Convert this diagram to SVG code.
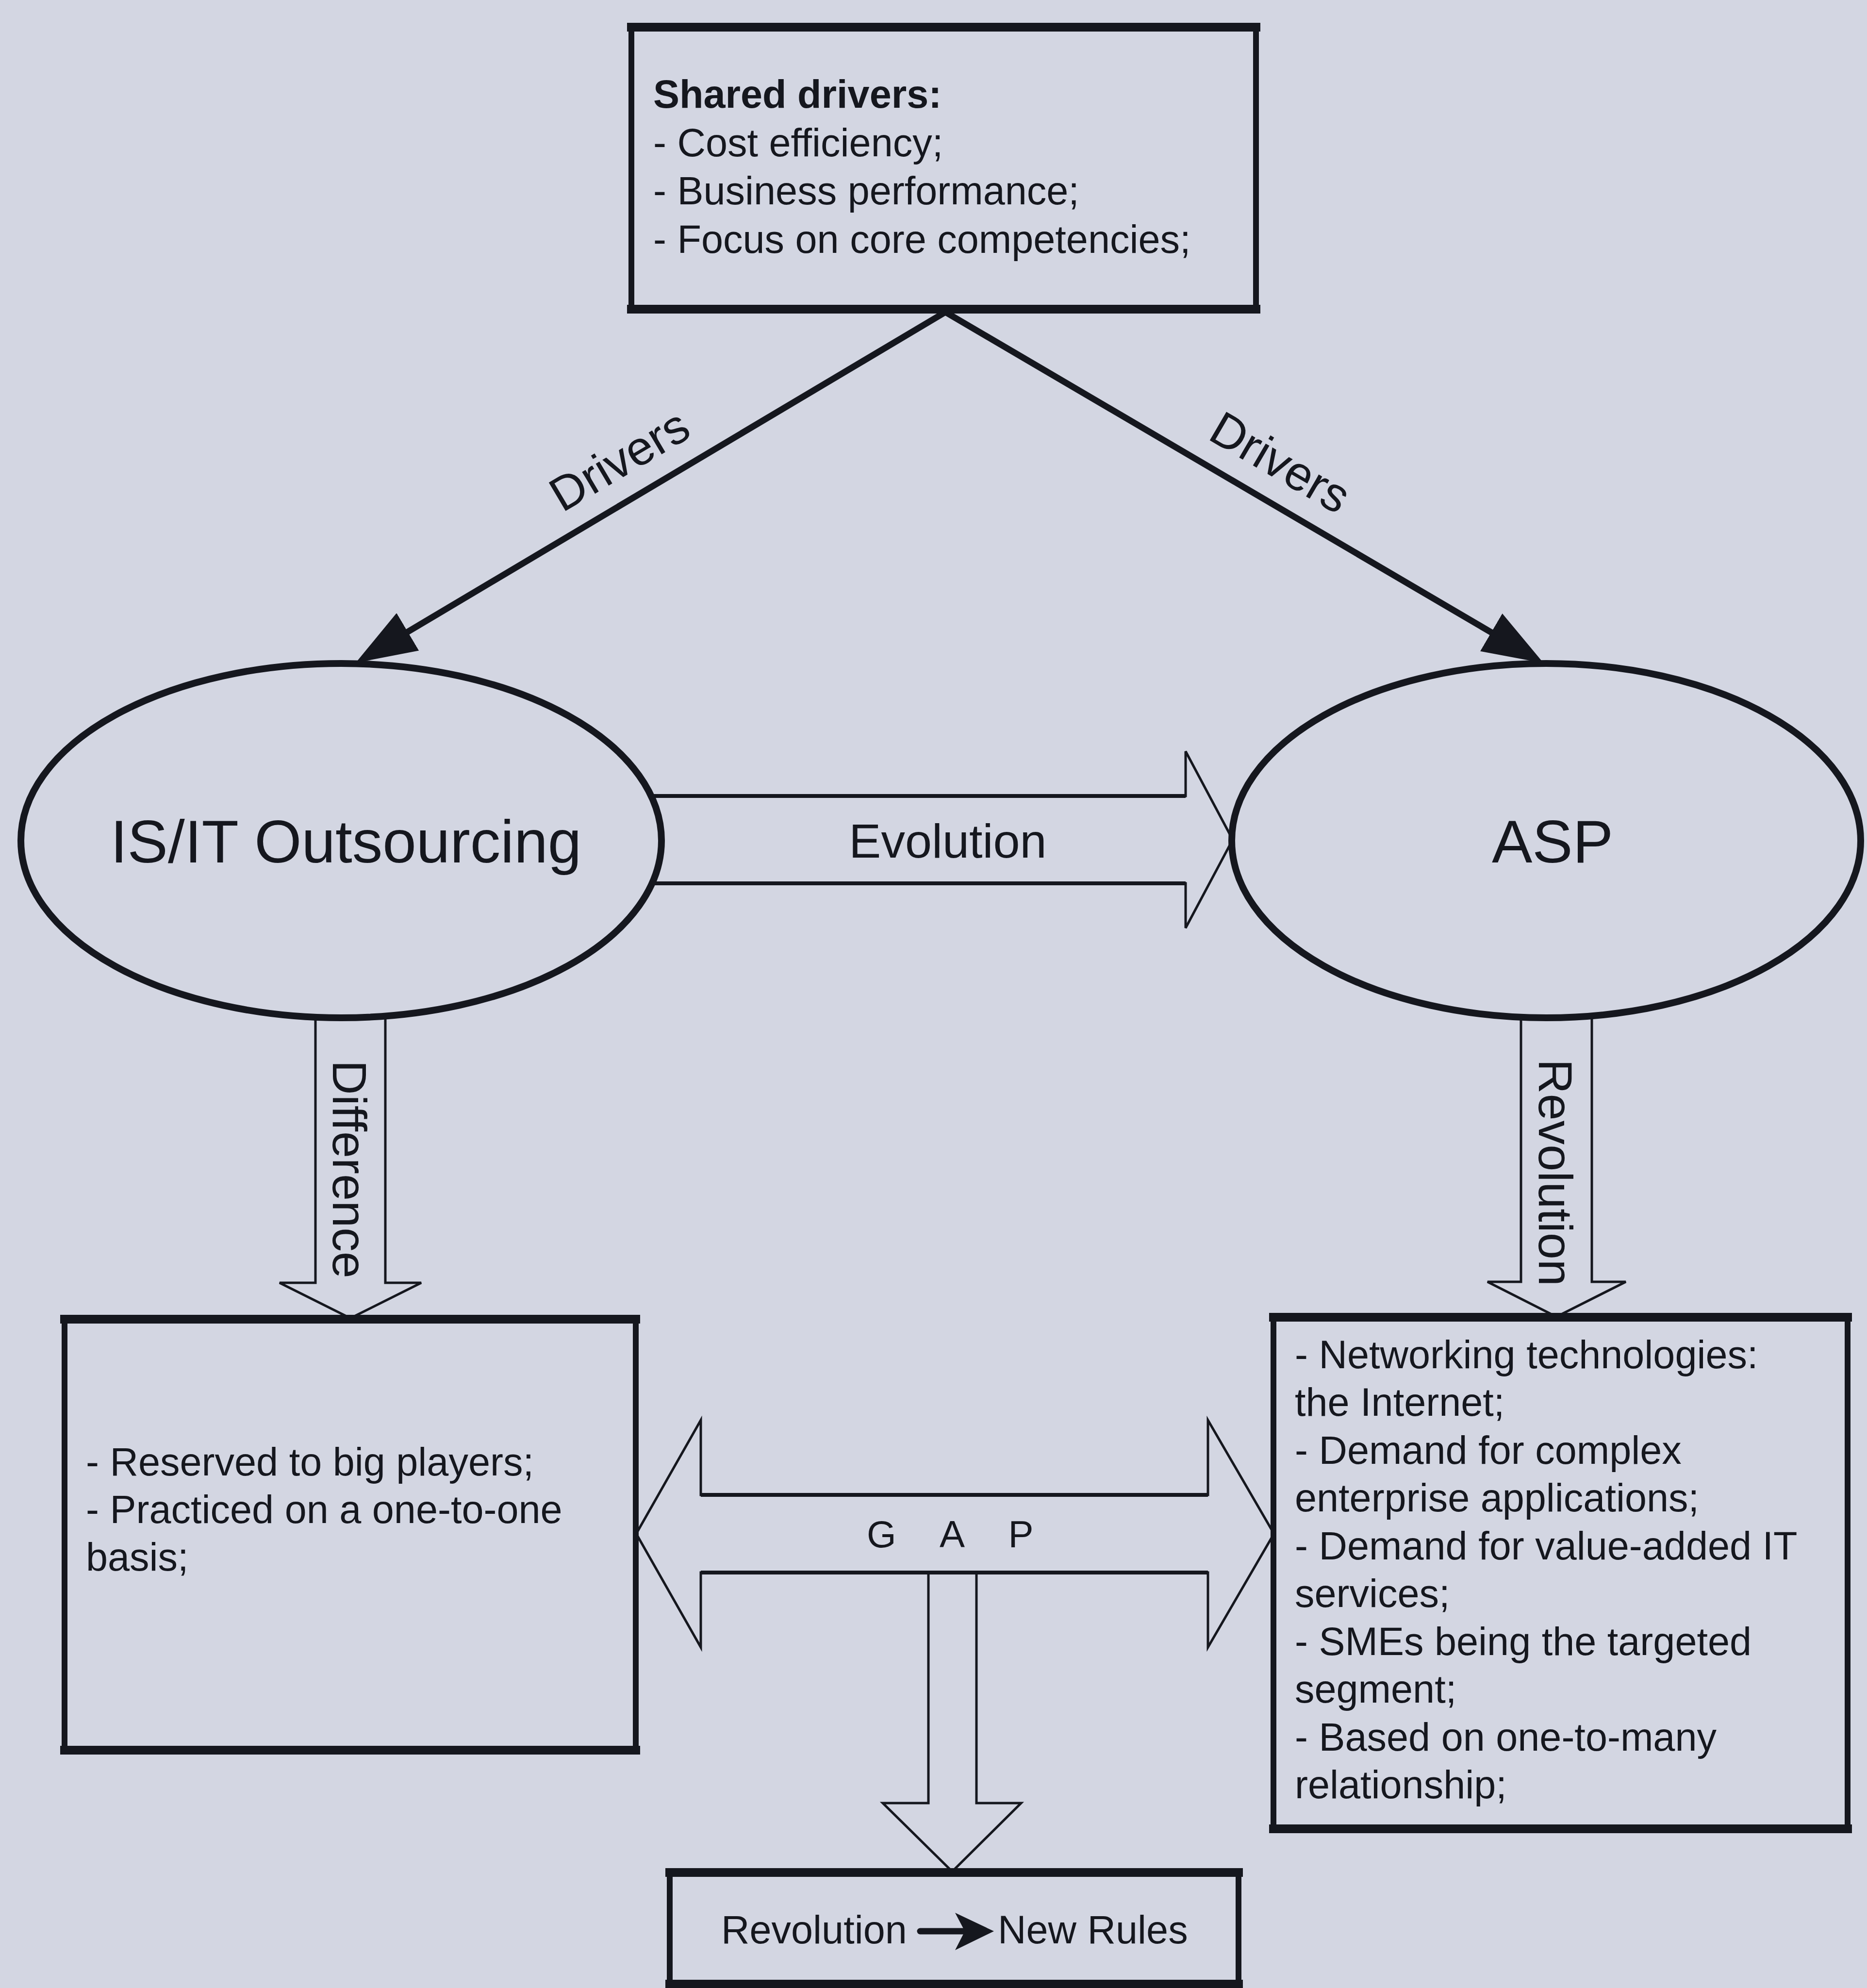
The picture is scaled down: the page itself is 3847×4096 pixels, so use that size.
<svg xmlns="http://www.w3.org/2000/svg" width="3847" height="4096" viewBox="0 0 3847 4096">
  <style>
    text { font-family: "Liberation Sans", Arial, Helvetica, sans-serif; fill: #15171e; }
    .body { font-size: 81px; }
    .bold { font-weight: bold; }
    .label { font-size: 99px; }
    .title { font-size: 125px; }
    .gap { font-size: 78px; letter-spacing: 36px; }
    .side { fill: none; stroke: #15171e; stroke-width: 12; }
    .edge { stroke: #15171e; stroke-width: 18; stroke-linecap: square; }
    .oval { fill: none; stroke: #15171e; stroke-width: 14; }
    .hollow { fill: none; stroke: #15171e; stroke-width: 5; stroke-linejoin: miter; }
    .shaft { stroke: #15171e; stroke-width: 8; }
    .conn { fill: none; stroke: #15171e; stroke-width: 13; }
    .ink { fill: #15171e; }
  </style>
  <defs>
    <marker id="solidHead" viewBox="0 0 125 90" refX="20" refY="45" markerWidth="125" markerHeight="90" markerUnits="userSpaceOnUse" orient="auto">
      <path d="M0,0 L125,45 L0,90 Z" class="ink"/>
    </marker>
  </defs>

  <rect width="3847" height="4096" fill="#d3d6e2"/>

  <!-- connectors: driver arrows and block arrows -->
  <g id="connectors">
    <line class="conn" x1="1948" y1="643" x2="823" y2="1312" marker-end="url(#solidHead)"/>
    <line class="conn" x1="1948" y1="643" x2="3090" y2="1313" marker-end="url(#solidHead)"/>
    <g transform="translate(1320,1022) rotate(-30.6)">
      <text class="label" x="0" y="-52" text-anchor="middle">Drivers</text>
    </g>
    <g transform="translate(2595,1027) rotate(30.2)">
      <text class="label" x="0" y="-52" text-anchor="middle">Drivers</text>
    </g>

    <!-- Evolution -->
    <g id="arrow-evolution">
      <path class="hollow" d="M1343,1640 H2443 V1548 L2540,1730 L2443,1912 V1820 H1343"/>
      <line class="shaft" x1="1343" y1="1640" x2="2443" y2="1640"/>
      <line class="shaft" x1="1343" y1="1820" x2="2443" y2="1820"/>
      <text class="label" x="1953" y="1767" text-anchor="middle">Evolution</text>
    </g>

    <!-- Difference -->
    <g id="arrow-difference">
      <path class="hollow" d="M650,2096 V2643 H576 L722,2716 L868,2643 H794 V2096"/>
      <g transform="translate(722,2409) rotate(90)">
        <text class="label" x="0" y="36" text-anchor="middle">Difference</text>
      </g>
    </g>

    <!-- Revolution -->
    <g id="arrow-revolution">
      <path class="hollow" d="M3134,2096 V2641 H3065 L3207,2713 L3350,2641 H3280 V2096"/>
      <g transform="translate(3207,2416) rotate(90)">
        <text class="label" x="0" y="36" text-anchor="middle">Revolution</text>
      </g>
    </g>

    <!-- GAP -->
    <g id="arrow-gap">
      <path class="hollow" d="M1444,3080 V2926 L1311,3160 L1444,3394 V3240 H2489 V3394 L2625,3160 L2489,2926 V3080 Z"/>
      <line class="shaft" x1="1444" y1="3080" x2="2489" y2="3080"/>
      <line class="shaft" x1="1444" y1="3240" x2="2489" y2="3240"/>
      <text class="gap" x="1786" y="3188">G A P</text>
      <path class="hollow" d="M1913,3240 V3715 H1819 L1962,3856 L2104,3715 H2012 V3240"/>
    </g>
  </g>

  <!-- shared drivers -->
  <g id="shared-drivers">
    <rect class="side" x="1301" y="56" width="1287" height="581"/>
    <line class="edge" x1="1301" y1="56" x2="2588" y2="56"/>
    <line class="edge" x1="1301" y1="637" x2="2588" y2="637"/>
    <text class="body bold" x="1346" y="222">Shared drivers:</text>
    <text class="body" x="1346" y="322">- Cost efficiency;</text>
    <text class="body" x="1346" y="421">- Business performance;</text>
    <text class="body" x="1346" y="521">- Focus on core competencies;</text>
  </g>

  <!-- IS/IT outsourcing -->
  <g id="outsourcing">
    <ellipse class="oval" cx="703" cy="1732" rx="660" ry="365"/>
    <text class="title" x="713" y="1777" text-anchor="middle">IS/IT Outsourcing</text>
  </g>

  <!-- ASP -->
  <g id="asp">
    <ellipse class="oval" cx="3186" cy="1732" rx="648" ry="365"/>
    <text class="title" x="3199" y="1777" text-anchor="middle">ASP</text>
  </g>

  <!-- outsourcing characteristics -->
  <g id="outsourcing-traits">
    <rect class="side" x="133" y="2718" width="1177" height="888"/>
    <line class="edge" x1="133" y1="2718" x2="1310" y2="2718"/>
    <line class="edge" x1="133" y1="3606" x2="1310" y2="3606"/>
    <text class="body" x="177" y="3040">- Reserved to big players;</text>
    <text class="body" x="177" y="3138">- Practiced on a one-to-one</text>
    <text class="body" x="177" y="3236">basis;</text>
  </g>

  <!-- ASP characteristics -->
  <g id="asp-traits">
    <rect class="side" x="2624" y="2714" width="1183" height="1054"/>
    <line class="edge" x1="2624" y1="2714" x2="3807" y2="2714"/>
    <line class="edge" x1="2624" y1="3768" x2="3807" y2="3768"/>
    <text class="body" x="2668" y="2819">- Networking technologies:</text>
    <text class="body" x="2668" y="2917">the Internet;</text>
    <text class="body" x="2668" y="3016">- Demand for complex</text>
    <text class="body" x="2668" y="3114">enterprise applications;</text>
    <text class="body" x="2668" y="3213">- Demand for value-added IT</text>
    <text class="body" x="2668" y="3311">services;</text>
    <text class="body" x="2668" y="3410">- SMEs being the targeted</text>
    <text class="body" x="2668" y="3508">segment;</text>
    <text class="body" x="2668" y="3607">- Based on one-to-many</text>
    <text class="body" x="2668" y="3705">relationship;</text>
  </g>

  <!-- new rules -->
  <g id="new-rules">
    <rect class="side" x="1380" y="3858" width="1172" height="230"/>
    <line class="edge" x1="1380" y1="3858" x2="2552" y2="3858"/>
    <line class="edge" x1="1380" y1="4088" x2="2552" y2="4088"/>
    <text class="body" x="1486" y="4004">Revolution</text>
    <line x1="1896" y1="3979" x2="1992" y2="3979" stroke="#15171e" stroke-width="13" stroke-linecap="round"/>
    <path class="ink" d="M1968,3941 L2048,3979 L1968,4018 L1988,3979 Z"/>
    <text class="body" x="2056" y="4004">New Rules</text>
  </g>
</svg>
